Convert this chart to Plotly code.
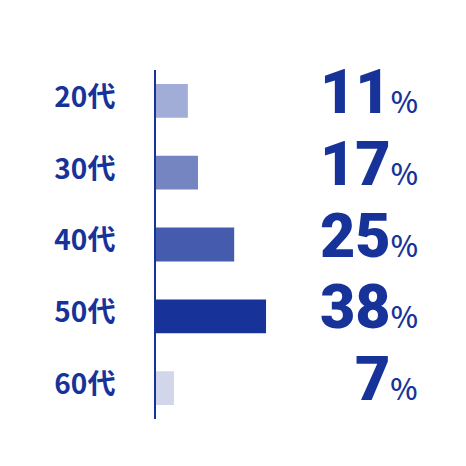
import plotly.graph_objects as go

categories = ["20代", "30代", "40代", "50代", "60代"]
# bar lengths as drawn in the picture (not exactly proportional to the labels)
bar_values = [11, 14.5, 27, 38, 6.2]
opacities = [0.4, 0.6, 0.8, 1.0, 0.2]
pct_labels = ["11", "17", "25", "38", "7"]

NAVY = "#17339a"
colors = [f"rgba(23,51,154,{o})" for o in opacities]

fig = go.Figure(
    go.Bar(
        y=categories,
        x=bar_values,
        orientation="h",
        width=0.47,
        marker=dict(color=colors, line=dict(width=0)),
        hoverinfo="skip",
    )
)

for cat, lab in zip(categories, pct_labels):
    fig.add_annotation(
        x=0.88, xref="paper", y=cat, yref="y",
        xanchor="right", yanchor="middle", yshift=9,
        text=(f"{lab}<span style='font-family:Noto Sans CJK JP;font-size:29px;"
              f"font-weight:500'>%</span>"),
        showarrow=False,
        font=dict(family="Roboto", size=61, color=NAVY, weight=900),
    )

fig.update_layout(
    width=466, height=466,
    margin=dict(l=148, r=18, t=62, b=55),
    paper_bgcolor="white", plot_bgcolor="white",
    showlegend=False,
    xaxis=dict(range=[0, 103.6], showgrid=False, zeroline=False,
               showticklabels=False, showline=False, fixedrange=True),
    yaxis=dict(type="category", range=[4.43, -0.43], showgrid=False,
               zeroline=False, showline=True, linecolor=NAVY, linewidth=2,
               ticks="", ticklabelstandoff=33, ticklabelshift=4,
               tickfont=dict(family="Noto Sans CJK JP", size=28, color=NAVY, weight="bold")),
)

fig.write_html("out.html")
